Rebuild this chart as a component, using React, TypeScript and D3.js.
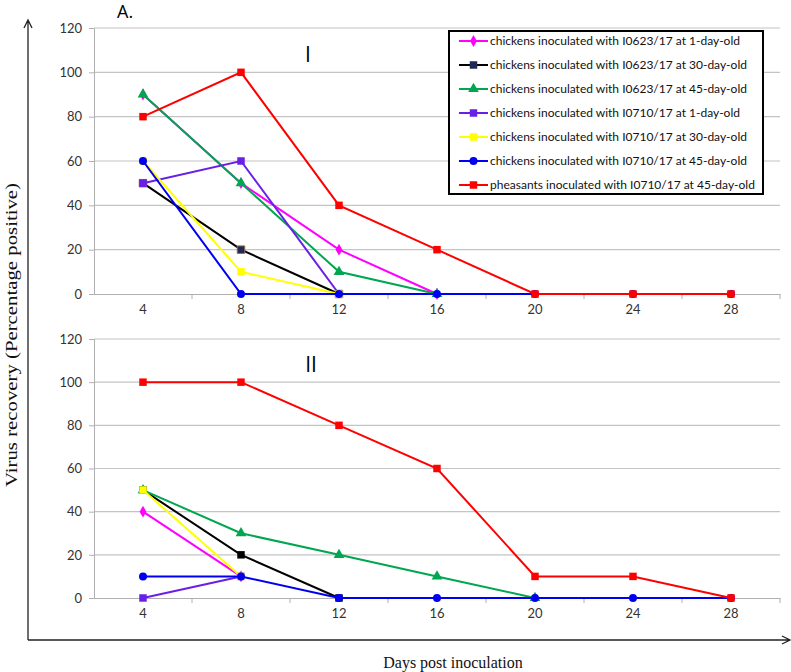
import { useEffect, useRef } from 'react';
import * as d3 from 'd3';

// Days on the category axis
const days: number[] = [4, 8, 12, 16, 20, 24, 28];
const yTicks: number[] = [0, 20, 40, 60, 80, 100, 120];

const seriesNames: string[] = [
  'chickens inoculated with I0623/17 at 1-day-old',
  'chickens inoculated with I0623/17 at 30-day-old',
  'chickens inoculated with I0623/17 at 45-day-old',
  'chickens inoculated with I0710/17 at 1-day-old',
  'chickens inoculated with I0710/17 at 30-day-old',
  'chickens inoculated with I0710/17 at 45-day-old',
  'pheasants inoculated with I0710/17 at 45-day-old',
];

// Panel I values (null = not shown)
const panelI: (number | null)[][] = [
  [90, 50, 20, 0, null, null, null],
  [50, 20, 0, null, null, null, null],
  [90, 50, 10, 0, null, null, null],
  [50, 60, 0, null, null, null, null],
  [60, 10, 0, null, null, null, null],
  [60, 0, 0, 0, 0, 0, 0],
  [80, 100, 40, 20, 0, 0, 0],
];

// Panel II values
const panelII: (number | null)[][] = [
  [40, 10, null, null, null, null, null],
  [50, 20, 0, null, null, null, null],
  [50, 30, 20, 10, 0, null, null],
  [0, 10, null, null, null, null, null],
  [50, 10, null, null, null, null, null],
  [10, 10, 0, 0, 0, 0, 0],
  [100, 100, 80, 60, 10, 10, 0],
];

const colors = ['#ff00ff', '#000000', '#00a650', '#6a1fe6', '#ffff00', '#0000f0', '#ff0000'];
const shapes = [d3.symbolDiamond, d3.symbolSquare, d3.symbolTriangle, d3.symbolSquare, d3.symbolSquare, d3.symbolCircle, d3.symbolSquare];
const sizes = [40, 56, 50, 56, 56, 50, 56];

export default function App() {
  const svgRef = useRef<SVGSVGElement | null>(null);

  useEffect(() => {
    if (!svgRef.current) return;
    const svg = d3.select(svgRef.current);
    svg.selectAll('*').remove();

    const x = d3.scaleBand<number>().domain(days).range([94, 780]);
    const cx = (d: number) => (x(d) as number) + x.bandwidth() / 2;

    function drawPanel(vals: (number | null)[][], y0: number, y1: number, darkNavyBlack: boolean) {
      const y = d3.scaleLinear().domain([0, 120]).range([y0, y1]);
      const g = svg.append('g');

      // gridlines
      g.selectAll('line.grid').data(yTicks.slice(1)).join('line')
        .attr('x1', 94).attr('x2', 780)
        .attr('y1', d => y(d)).attr('y2', d => y(d))
        .attr('stroke', '#c4c4c4').attr('stroke-width', 1.2);

      // y axis
      const ya = g.append('g').attr('transform', 'translate(94,0)')
        .call(d3.axisLeft(y).tickValues(yTicks).tickSize(5).tickPadding(7));
      ya.select('.domain').attr('stroke', '#b0b0b0');
      ya.selectAll('.tick line').attr('stroke', '#b0b0b0');
      ya.selectAll('.tick text').attr('font-family', 'Lato, "Open Sans", sans-serif').attr('font-size', 13).attr('fill', '#333');

      // x axis
      const xa = g.append('g').attr('transform', `translate(0,${y0})`)
        .call(d3.axisBottom(x).tickSize(0).tickPadding(11));
      xa.select('.domain').attr('stroke', '#b0b0b0');
      xa.selectAll('.tick text').attr('font-family', 'Lato, "Open Sans", sans-serif').attr('font-size', 13).attr('fill', '#333');
      g.selectAll('line.sep').data(days.slice(1).concat([0])).join('line')
        .attr('x1', (d, i) => i < days.length - 1 ? (x(d) as number) : 780)
        .attr('x2', (d, i) => i < days.length - 1 ? (x(d) as number) : 780)
        .attr('y1', y0).attr('y2', y0 + 5)
        .attr('stroke', '#b0b0b0');

      const line = d3.line<number | null>()
        .defined(d => d !== null)
        .x((_, i) => cx(days[i]))
        .y(d => y(d as number));

      vals.forEach((s, k) => {
        g.append('path').datum(s)
          .attr('d', line)
          .attr('fill', 'none')
          .attr('stroke', colors[k])
          .attr('stroke-width', 2);
        const pts = s.map((v, i) => ({ v, d: days[i] })).filter(p => p.v !== null);
        g.selectAll(null).data(pts).join('path')
          .attr('transform', p => `translate(${cx(p.d)},${y(p.v as number)})`)
          .attr('d', d3.symbol().type(shapes[k]).size(sizes[k])())
          .attr('fill', k === 1 && darkNavyBlack ? '#1c2a55' : colors[k])
          .attr('stroke', k === 1 && darkNavyBlack ? '#9a6a4a' : 'none')
          .attr('stroke-width', 1);
      });
    }

    drawPanel(panelI, 294, 28, true);
    drawPanel(panelII, 598, 339, false);

    // legend
    const lg = svg.append('g');
    lg.append('rect').attr('x', 449).attr('y', 31).attr('width', 314).attr('height', 163)
      .attr('fill', 'white').attr('stroke', '#000').attr('stroke-width', 2);
    seriesNames.forEach((name, k) => {
      const ly = 41 + k * 24;
      lg.append('line').attr('x1', 459).attr('x2', 488).attr('y1', ly).attr('y2', ly)
        .attr('stroke', colors[k]).attr('stroke-width', 2);
      lg.append('path').attr('transform', `translate(473.5,${ly})`)
        .attr('d', d3.symbol().type(shapes[k]).size(sizes[k])())
        .attr('fill', k === 1 ? '#1c2a55' : colors[k]);
      lg.append('text').attr('x', 490).attr('y', ly).attr('dy', '0.35em')
        .attr('font-family', 'Lato, "Open Sans", sans-serif').attr('font-size', 12).attr('fill', '#111')
        .text(name);
    });

    // outer arrows
    const ax = svg.append('g').attr('stroke', '#222').attr('stroke-width', 1.3).attr('fill', 'none');
    ax.append('path').attr('d', 'M28,640 L28,20 M24,28 L28,20 L32,28');
    ax.append('path').attr('d', 'M28,640 L790,640 M782,636 L790,640 L782,644');

    // titles
    svg.append('text').attr('x', 117).attr('y', 18).attr('font-family', '"Open Sans", sans-serif')
      .attr('font-size', 18).attr('fill', '#000').text('A.');
    svg.append('text').attr('x', 308).attr('y', 62).attr('text-anchor', 'middle').attr('font-family', '"Open Sans", sans-serif')
      .attr('font-size', 21).attr('fill', '#000').text('I');
    svg.append('text').attr('x', 311).attr('y', 372).attr('text-anchor', 'middle').attr('font-family', '"Open Sans", sans-serif')
      .attr('font-size', 21).attr('fill', '#000').text('II');

    svg.append('text').attr('transform', 'translate(17,335) rotate(-90)').attr('text-anchor', 'middle')
      .attr('font-family', '"Liberation Serif", serif').attr('font-size', 16).attr('fill', '#111')
      .attr('textLength', 304).attr('lengthAdjust', 'spacingAndGlyphs')
      .text('Virus recovery (Percentage positive)');
    svg.append('text').attr('x', 453).attr('y', 668).attr('text-anchor', 'middle')
      .attr('font-family', '"Liberation Serif", serif').attr('font-size', 16).attr('fill', '#111')
      .text('Days post inoculation');

    return () => { svg.selectAll('*').remove(); };
  }, []);

  return (
    <svg ref={svgRef} width={791} height={672} style={{ position: 'absolute', left: 0, top: 0, background: 'white' }} />
  );
}
